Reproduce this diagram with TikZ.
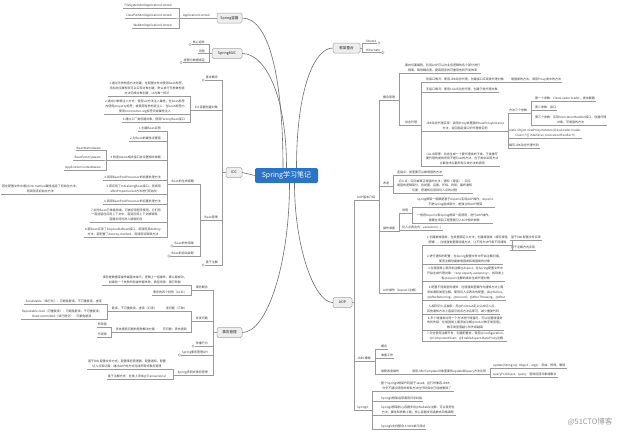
\documentclass[tikz,border=0pt]{standalone}
\usepackage{fontspec}
\setmainfont{Noto Sans CJK SC}
\usetikzlibrary{positioning}
\definecolor{linegray}{HTML}{9A9A9A}
\definecolor{curvegray}{HTML}{6E6E6E}
\definecolor{boxgray}{HTML}{A6A6A6}
\definecolor{boxfill}{HTML}{EEEEEE}
\definecolor{rootblue}{HTML}{2B74C4}
\definecolor{textgray}{HTML}{3C3C3C}

\begin{document}
\begin{tikzpicture}[x=1pt,y=-1pt,
  ln/.style={draw=linegray,line width=0.4pt},
  curve/.style={draw=curvegray,line width=0.6pt},
  topic/.style={draw=boxgray,fill=boxfill,rounded corners=1.5pt,line width=0.5pt,
    minimum height=10pt,inner sep=0pt,text=black!85,font=\fontsize{3.6}{4.3}\selectfont},
  leaf/.style={inner xsep=1pt,inner ysep=0.7pt,align=center,text=textgray,
    font=\fontsize{3}{4.9}\selectfont,
    append after command={(\tikzlastnode.south west) edge[ln] (\tikzlastnode.south east)}},
  fold/.style={circle,draw=linegray,fill=white,line width=0.4pt,inner sep=0pt,minimum size=2.6pt}]

\fill[white] (0,0) rectangle (620,431);
\useasboundingbox (0,0) rectangle (620,431);

% Centre
\node[fill=rootblue,rounded corners=2pt,minimum width=63pt,minimum height=15pt,
  text=white,font=\fontsize{7}{8}\selectfont] (root) at (286.5,175.5) {Spring学习笔记};

% Spring容器
\node[topic,minimum width=25pt] (sprC) at (229.5,18) {Spring容器};
\node[leaf,anchor=south east] (appC) at (211,18) {ApplicationContext};
\node[leaf,anchor=south east] (fsCtx) at (173,8) {FileSystemXmlApplicationContext};
\node[leaf,anchor=south east] (cpCtx) at (173,18) {ClassPathXmlApplicationContext};
\node[leaf,anchor=south east] (webCtx) at (173,28) {WebXmlApplicationContext};
\draw[ln] (sprC.west) -- (appC.south east);
\foreach \c in {fsCtx,cpCtx,webCtx}
  \draw[ln] (appC.south west) -- ++(-3,0) |- (\c.south east);
\draw[curve] (sprC.east) .. controls +(28,0) and +(0,-85) .. ([xshift=-3.5pt]root.north);

% SpringMVC
\node[topic,minimum width=30pt] (mvc) at (227,53.5) {SpringMVC};
\node[leaf,anchor=south east] (mvcCore) at (206,44.5) {核心组件};
\node[leaf,anchor=south east] (mvcFlow) at (206,53.5) {流程};
\node[leaf,anchor=south east] (mvcView) at (206,62.5) {视图与数据绑定};
\node[fold,left=0pt of mvcCore.south west] (mvcCoreF) {};
\node[fold,left=0pt of mvcView.south west] (mvcViewF) {};
\foreach \c in {mvcCore,mvcFlow,mvcView}
  \draw[ln] (mvc.west) -- ++(-3,0) |- (\c.south east);
\draw[curve] (mvc.east) .. controls +(22,0) and +(0,-75) .. (root.north);

% IOC
\node[topic,minimum width=16pt] (ioc) at (234,172.5) {IOC};
\draw[curve] (ioc.east) -- (root.west);
\node[leaf,anchor=south east] (iocBasic) at (219,80) {基本概念};
\node[leaf,anchor=south east] (iocNew) at (219,110) {IOC容器创建对象};
\node[leaf,anchor=south east] (iocBean) at (219,220) {Bean管理};
\node[leaf,anchor=south east] (iocAnno) at (219,265) {基于注解};
\node[fold,left=0pt of iocBasic.south west] (iocBasicF) {};
\node[fold,left=0pt of iocAnno.south west] (iocAnnoF) {};
\foreach \c in {iocBasic,iocNew,iocBean,iocAnno}
  \draw[ln] (ioc.west) -- ++(-4,0) |- (\c.south east);

\node[leaf,anchor=south east] (newA) at (186,96) {1.通过无参构造方法创建：在配置文件中使用bean标签，\\添加对应属性就可以实现对象创建，默认执行无参数构造\\方法完成对象创建，id为唯一标识};
\node[leaf,anchor=south east] (newB) at (186,114) {2.通过DI依赖注入方式：使用set方法注入属性，在bean标签\\内使用property标签；或使用有参构造注入，在bean标签内\\使用constructor-arg标签完成属性注入};
\node[leaf,anchor=south east] (newC) at (186,122) {3.通过工厂类创建对象，使用FactoryBean接口};
\foreach \c in {newA,newB,newC}
  \draw[ln] (iocNew.south west) -- ++(-3,0) |- (\c.south east);

\node[leaf,anchor=south east] (life) at (195,184) {Bean的生命周期};
\node[leaf,anchor=south east] (scope) at (195,246) {Bean的作用域};
\node[leaf,anchor=south east] (wire) at (195,256) {Bean的自动装配};
\node[fold,left=0pt of scope.south west] (scopeF) {};
\node[fold,left=0pt of wire.south west] (wireF) {};
\foreach \c in {life,scope,wire}
  \draw[ln] (iocBean.south west) -- ++(-3,0) |- (\c.south east);

\node[leaf,anchor=south east] (lf1) at (162,131) {1.创建Bean实例};
\node[leaf,anchor=south east] (lf2) at (162,141) {2.为Bean的属性设置值};
\node[leaf,anchor=south east] (lf3) at (162,160) {3.检查Aware相关接口并设置相关依赖};
\node[leaf,anchor=south east] (lf4) at (162,180) {4.调用BeanPostProcessor的前置处理方法};
\node[leaf,anchor=south east] (lf5) at (162,194) {5.若实现了InitializingBean接口，则调用\\afterPropertiesSet方法进行初始化};
\node[leaf,anchor=south east] (lf6) at (162,204) {6.调用BeanPostProcessor的后置处理方法};
\node[leaf,anchor=south east] (lf7) at (162,222) {7.此时Bean已准备就绪，可被应用程序使用，它们将\\一直驻留在应用上下文中，直到应用上下文被销毁，\\容器关闭时进入销毁阶段};
\node[leaf,anchor=south east] (lf8) at (162,237) {8.若Bean实现了DisposableBean接口，将调用其destroy\\方法；若配置了destroy-method，则调用该销毁方法};
\foreach \c in {lf1,lf2,lf3,lf4,lf5,lf6,lf7,lf8}
  \draw[ln] (life.south west) -- ++(-3,0) |- (\c.south east);

\node[leaf,anchor=south east] (aw1) at (102,150) {BeanNameAware};
\node[leaf,anchor=south east] (aw2) at (102,160) {BeanFactoryAware};
\node[leaf,anchor=south east] (aw3) at (102,170) {ApplicationContextAware};
\foreach \c in {aw1,aw2,aw3}
  \draw[ln] (lf3.south west) -- ++(-3,0) |- (\c.south east);
\node[leaf,anchor=south east] (lf5a) at (80,194) {若在配置文件中通过init-method属性指定了初始化方法，\\则调用该初始化方法};
\draw[ln] (lf5.south west) -- (lf5a.south east);

% 事务管理
\node[topic,minimum width=25pt] (tx) at (229.5,332.5) {事务管理};
\draw[curve] (tx.east) .. controls +(25,0) and +(0,80) .. ([xshift=3pt]root.south);
\node[leaf,anchor=south east] (txDef) at (209,290) {事务概念};
\node[leaf,anchor=south east] (txCon) at (209,321) {并发问题};
\node[leaf,anchor=south east] (txProp) at (209,346) {传播行为};
\node[leaf,anchor=south east] (txApi) at (209,355) {Spring事务管理API};
\node[leaf,anchor=south east] (txDecl) at (209,375) {Spring声明式事务管理};
\node[fold,left=0pt of txProp.south west] (txPropF) {};
\node[fold,left=0pt of txApi.south west] (txApiF) {};
\foreach \c in {txDef,txCon,txProp,txApi,txDecl}
  \draw[ln] (tx.west) -- ++(-4,0) |- (\c.south east);

\node[leaf,anchor=south east] (defA) at (188,285) {事务是数据库操作最基本单元，逻辑上一组操作，要么都成功，\\如果有一个失败所有操作都失败，典型场景：银行转账};
\node[leaf,anchor=south east] (defB) at (188,295) {事务的四个特性（ACID）};
\foreach \c in {defA,defB}
  \draw[ln] (txDef.south west) -- ++(-3,0) |- (\c.south east);

\node[leaf,anchor=south east] (conR) at (188,311) {读问题（三种）};
\node[leaf,anchor=south east] (conW) at (188,332) {写问题：丢失更新};
\foreach \c in {conR,conW}
  \draw[ln] (txCon.south west) -- ++(-3,0) |- (\c.south east);
\node[leaf,anchor=south east] (conRa) at (158,311) {脏读、不可重复读、虚读（幻读）};
\draw[ln] (conR.south west) -- (conRa.south east);
\node[leaf,anchor=south east] (iso1) at (103,304) {Serializable（串行化）：可避免脏读、不可重复读、虚读};
\node[leaf,anchor=south east] (iso2) at (103,319) {Repeatable read（可重复读）：可避免脏读、不可重复读；\\Read committed（读已提交）：可避免脏读};
\foreach \c in {iso1,iso2}
  \draw[ln] (conRa.south west) -- ++(-3,0) |- (\c.south east);
\node[leaf,anchor=south east] (conWa) at (156,332) {丢失更新问题的两种解决方案};
\draw[ln] (conW.south west) -- (conWa.south east);
\node[leaf,anchor=south east] (lock1) at (108,327) {悲观锁};
\node[leaf,anchor=south east] (lock2) at (108,337) {乐观锁};
\foreach \c in {lock1,lock2}
  \draw[ln] (conWa.south west) -- ++(-3,0) |- (\c.south east);

\node[leaf,anchor=south east] (declA) at (167,369) {基于XML配置文件方式：配置事务管理器，配置通知，配置\\切入点和切面，通过AOP的方式完成声明式事务管理};
\node[leaf,anchor=south east] (declB) at (167,379) {基于注解方式：在类上添加@Transactional};
\foreach \c in {declA,declB}
  \draw[ln] (txDecl.south west) -- ++(-3,0) |- (\c.south east);

% 框架整合
\node[topic,minimum width=27pt] (frm) at (346.5,48) {框架整合};
\draw[curve] (frm.west) .. controls +(-18,0) and +(0,-80) .. ([xshift=10pt]root.north);
\node[leaf,anchor=south west] (struts) at (365,43) {Struts2};
\node[leaf,anchor=south west] (hiber) at (365,52.5) {Hibernate};
\node[fold,right=0pt of struts.south east] (strutsF) {};
\node[fold,right=0pt of hiber.south east] (hiberF) {};
\foreach \c in {struts,hiber}
  \draw[ln] (frm.east) -- ++(2,0) |- (\c.south west);

% AOP
\node[topic,minimum width=19pt] (aop) at (342.5,302.5) {AOP};
\draw[curve] (aop.west) .. controls +(-18,0) and +(0,65) .. ([xshift=8pt]root.south);
\node[leaf,anchor=south west] (aopIntro) at (356,200) {AOP基本介绍};
\node[leaf,anchor=south west] (jdbc) at (356,361) {JDBC模板};
\node[leaf,anchor=south west] (sp5) at (356,410) {Spring5};
\foreach \c in {aopIntro,jdbc,sp5}
  \draw[ln] (aop.east) -- ++(2,0) |- (\c.south west);

\node[leaf,anchor=south west] (pr) at (382,100) {概念原理};
\node[leaf,anchor=south west] (term) at (382,186) {术语};
\node[leaf,anchor=south west] (adv) at (382,231) {操作准备};
\node[leaf,anchor=south west] (asp) at (382,293) {AOP操作（AspectJ注解）};
\foreach \c in {pr,term,adv,asp}
  \draw[ln] (aopIntro.south east) -- ++(3,0) |- (\c.south west);

\node[leaf,anchor=south west] (prA) at (404,73) {面向切面编程，利用AOP可以对业务逻辑的各个部分进行\\隔离，降低耦合度，提高程序的可重用性和开发效率};
\node[leaf,anchor=south west] (proxy) at (404,125) {动态代理};
\foreach \c in {prA,proxy}
  \draw[ln] (pr.south east) -- ++(3,0) |- (\c.south west);

\node[leaf,anchor=south west] (jdkA) at (425,82) {有接口情况：使用JDK动态代理，创建接口实现类代理对象};
\node[leaf,anchor=south west] (cglibA) at (425,92) {无接口情况：使用CGLIB动态代理，创建子类代理对象};
\node[leaf,anchor=south west] (jdkB) at (425,131) {JDK动态代理实现：调用Proxy类里面的newProxyInstance\\方法，返回指定接口的代理类实例};
\node[leaf,anchor=south west] (cglibB) at (425,166) {CGLIB原理：动态生成一个要代理类的子类，子类重写\\要代理的类的所有不是final的方法，在子类中采用方法\\拦截技术拦截所有父类方法的调用};
\foreach \c in {jdkA,cglibA,jdkB,cglibB}
  \draw[ln] (proxy.south east) -- ++(3,0) |- (\c.south west);
\node[leaf,anchor=south west] (jdkAa) at (510,82) {增强类的方法，调用Proxy类中的方法};
\draw[ln] (jdkA.south east) -- (jdkAa.south west);

\node[leaf,anchor=south west] (args) at (508,113) {方法三个参数};
\node[leaf,anchor=south west] (sig) at (508,138) {static Object newProxyInstance(ClassLoader loader,\\Class<?>[] interfaces, InvocationHandler h)};
\node[leaf,anchor=south west] (jdkCode) at (508,148) {编写JDK动态代理代码};
\foreach \c in {args,sig,jdkCode}
  \draw[ln] (jdkB.south east) -- ++(3,0) |- (\c.south west);
\node[leaf,anchor=south west] (arg1) at (534,101) {第一个参数：ClassLoader loader，类加载器};
\node[leaf,anchor=south west] (arg2) at (534,110) {第二参数：接口};
\node[leaf,anchor=south west] (arg3) at (534,125) {第三个参数：实现InvocationHandler接口，创建代理\\对象，写增强的方法};
\foreach \c in {arg1,arg2,arg3}
  \draw[ln] (args.south east) -- ++(3,0) |- (\c.south west);

\node[leaf,anchor=south west] (tm1) at (396,175) {连接点：类里面可以被增强的方法};
\node[leaf,anchor=south west] (tm2) at (396,193) {切入点：实际被真正增强的方法；通知（增强）：实际\\增强的逻辑部分，有前置、后置、环绕、异常、最终通知\\切面：把通知应用到切入点的过程};
\foreach \c in {tm1,tm2}
  \draw[ln] (term.south east) -- ++(3,0) |- (\c.south west);

\node[leaf,anchor=south west] (advNote) at (401,213) {说明};
\node[leaf,anchor=south west] (advExp) at (401,230) {切入点表达式：execution(...)};
\foreach \c in {advNote,advExp}
  \draw[ln] (adv.south east) -- ++(3,0) |- (\c.south west);
\node[leaf,anchor=south west] (note1) at (416,207) {Spring框架一般都是基于AspectJ实现AOP操作，AspectJ\\不是Spring组成部分，是独立的AOP框架};
\node[leaf,anchor=south west] (note2) at (416,223) {一般把AspectJ和Spring框架一起使用，进行AOP操作，\\需要在项目工程里面引入AOP相关依赖};
\foreach \c in {note1,note2}
  \draw[ln] (advNote.south east) -- ++(3,0) |- (\c.south west);

\node[leaf,anchor=south west] (step1) at (426,245) {1.创建被增强类，在类里面定义方法；创建增强类（编写增强\\逻辑），在增强类里面创建方法，让不同方法代表不同通知};
\node[leaf,anchor=south west] (step2) at (426,264) {2.进行通知的配置：在Spring配置文件中开启注解扫描，\\使用注解创建被增强类和增强类的对象};
\node[leaf,anchor=south west] (step3) at (426,281) {3.在增强类上面添加注解@Aspect，在Spring配置文件中\\开启生成代理对象：<aop:aspectj-autoproxy>，找到类上\\有@Aspect注解的类并生成代理对象};
\node[leaf,anchor=south west] (step4) at (426,300) {4.配置不同类型的通知：在增强类里面作为通知方法上面\\添加通知类型注解，使用切入点表达式配置，如@Before、\\@AfterReturning、@Around、@AfterThrowing、@After};
\node[leaf,anchor=south west] (step5) at (426,314) {5.相同切入点抽取：用@Pointcut定义公共切入点，\\其他通知方法上直接引用该方法名即可，减少重复代码};
\node[leaf,anchor=south west] (step6) at (426,330) {6.多个增强类对同一个方法进行增强时，可以设置增强类\\的优先级：在增强类上面添加注解@Order(数字类型值)，\\数字类型值越小优先级越高};
\node[leaf,anchor=south west] (step7) at (426,341) {7.完全使用注解开发：创建配置类，使用@Configuration、\\@ComponentScan、@EnableAspectJAutoProxy注解};
\foreach \c in {step1,step2,step3,step4,step5,step6,step7}
  \draw[ln] (asp.south east) -- ++(3,0) |- (\c.south west);
\node[leaf,anchor=south west] (xmlWay) at (510,240) {基于XML配置文件实现};
\node[leaf,anchor=south west] (annoWay) at (510,250) {基于注解方式实现};
\foreach \c in {xmlWay,annoWay}
  \draw[ln] (step1.south east) -- ++(3,0) |- (\c.south west);

\node[leaf,anchor=south west] (jd1) at (380,349) {概念};
\node[leaf,anchor=south west] (jd2) at (380,358) {准备工作};
\node[leaf,anchor=south west] (jd3) at (380,374) {增删改查操作};
\foreach \c in {jd1,jd2,jd3}
  \draw[ln] (jdbc.south east) -- ++(3,0) |- (\c.south west);
\node[leaf,anchor=south west] (jd3a) at (411,374) {调用JdbcTemplate对象里面的update和query方法实现};
\draw[ln] (jd3.south east) -- (jd3a.south west);
\node[leaf,anchor=south west] (upd) at (492,368) {update(String sql, Object... args)：添加、修改、删除};
\node[leaf,anchor=south west] (qry) at (492,377) {queryForObject、query：查询返回对象或集合};
\foreach \c in {upd,qry}
  \draw[ln] (jd3a.south east) -- ++(3,0) |- (\c.south west);

\node[leaf,anchor=south west] (sp5a) at (380,391) {整个Spring5框架代码基于Java8，运行时兼容JDK9，\\许多不建议使用的类和方法在代码库中已经被删除了};
\node[leaf,anchor=south west] (sp5b) at (380,401) {Spring5框架自带通用日志封装};
\node[leaf,anchor=south west] (sp5c) at (380,415) {Spring5框架核心容器支持@Nullable注解，可以使用在\\方法、属性和参数上面；核心容器支持函数式风格编程};
\node[leaf,anchor=south west] (sp5d) at (380,429) {Spring5支持整合JUnit5单元测试};
\foreach \c in {sp5a,sp5b,sp5c,sp5d}
  \draw[ln] (sp5.south east) -- ++(3,0) |- (\c.south west);

% watermark
\node[anchor=east,text=black!40,font=\fontsize{7.5}{9}\selectfont] (mark) at (616,422) {@51CTO博客};
\end{tikzpicture}
\end{document}
